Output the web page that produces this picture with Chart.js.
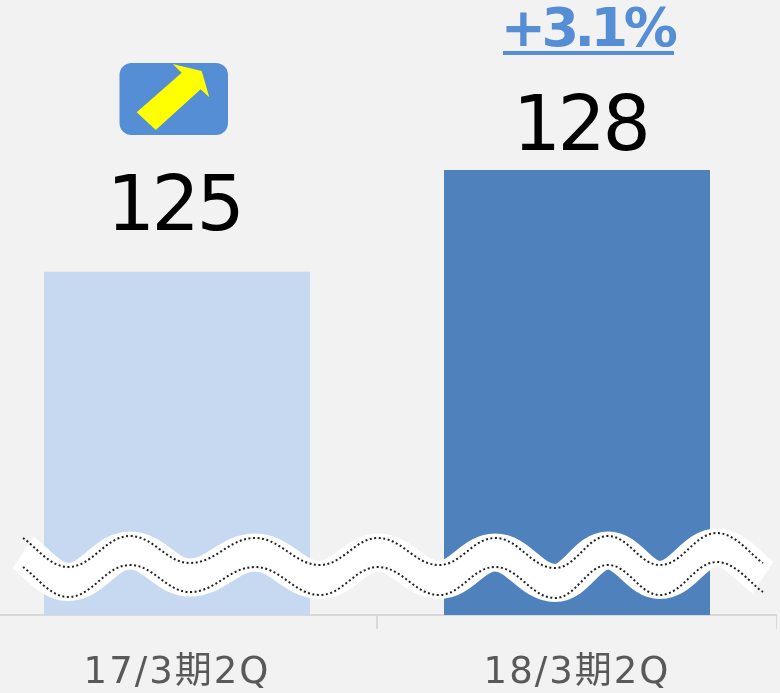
<!DOCTYPE html>
<html>
<head>
<meta charset="utf-8">
<style>
  html, body { margin: 0; padding: 0; background: #f2f2f2; overflow: hidden; width: 780px; height: 693px; }
  #chart { position: absolute; left: -23px; top: 0; }
</style>
<script src="https://cdn.jsdelivr.net/npm/chart.js@4"></script>
</head>
<body>
<canvas id="chart" width="800" height="693"></canvas>
<script>
const categories = ['17/3期2Q', '18/3期2Q'];
const values = [125, 128];
const barColors = ['#c6d9f1', '#4f81bd'];
const yMin = 114.9;
const yMax = 133;
const growthLabel = '+3.1%';

const labelFont = '"DejaVu Sans", "Noto Sans CJK JP", sans-serif';
const canvasLeft = -23;

// wave break, page pixels: crests and troughs of the two dotted lines
const waveX = [23, 68, 130, 190, 255, 320, 378, 439, 495, 555, 608, 660, 717, 763];
const waveTop = [538, 567, 536, 563, 538, 565, 538, 565, 538, 568, 536, 565, 533, 563];
const waveBottom = [567, 597, 565, 592, 567, 595, 567, 595, 567, 598, 565, 595, 562, 592];

function tracePath(ctx, xs, ys) {
  ctx.beginPath();
  ctx.moveTo(xs[0], ys[0]);
  for (var i = 1; i < xs.length; i++) {
    var dx = (xs[i] - xs[i - 1]) * 0.4;
    var first = i === 1;
    var last = i === xs.length - 1;
    // flat tangent at every crest, straighter run into the two ends
    ctx.bezierCurveTo(
      first ? xs[0] + 12 : xs[i - 1] + dx, first ? ys[0] + 8 : ys[i - 1],
      last ? xs[i] - 12 : xs[i] - dx, last ? ys[i] - 8 : ys[i],
      xs[i], ys[i]
    );
  }
}

const decorations = {
  id: 'decorations',
  beforeDraw(chart) {
    // tick labels are spaced a little wider than the font
    chart.ctx.letterSpacing = '2px';
  },
  afterDatasetsDraw(chart) {
    const ctx = chart.ctx;
    const bars = chart.getDatasetMeta(0).data;

    ctx.save();
    ctx.textAlign = 'center';
    ctx.textBaseline = 'alphabetic';
    ctx.fillStyle = '#000000';
    ctx.font = '400 76px ' + labelFont;
    ctx.letterSpacing = '-3.5px';
    const gaps = [42, 20];
    const shifts = [-3, 3];
    bars.forEach(function (bar, i) {
      ctx.fillText(String(values[i]), bar.x + shifts[i], bar.y - gaps[i]);
    });

    // growth figure above the second bar
    ctx.fillStyle = '#558ed5';
    ctx.font = '700 54px ' + labelFont;
    ctx.letterSpacing = '-4.5px';
    ctx.fillText(growthLabel, bars[1].x + 10, 46);
    ctx.letterSpacing = '0px';
    ctx.fillRect(526, 51, 171, 4);

    ctx.translate(-canvasLeft, 0);

    // badge with arrow
    ctx.fillStyle = '#558ed5';
    ctx.beginPath();
    ctx.roundRect(119.5, 63, 108.5, 72, 12);
    ctx.fill();
    ctx.fillStyle = '#ffff00';
    ctx.beginPath();
    ctx.moveTo(136.7, 112.3);
    ctx.lineTo(181.7, 72.7);
    ctx.lineTo(172.7, 64);
    ctx.lineTo(201.7, 71);
    ctx.lineTo(209.3, 97.3);
    ctx.lineTo(200.7, 89.3);
    ctx.lineTo(155.7, 130);
    ctx.closePath();
    ctx.fill();

    // white band of the axis break, then its dotted edges
    const waveMid = waveTop.map(function (y, i) { return (y + waveBottom[i]) / 2; });
    tracePath(ctx, waveX, waveMid);
    ctx.strokeStyle = '#ffffff';
    ctx.lineWidth = 38;
    ctx.lineCap = 'butt';
    ctx.lineJoin = 'miter';
    ctx.stroke();

    ctx.strokeStyle = '#222222';
    ctx.lineWidth = 2;
    ctx.setLineDash([2, 2.5]);
    tracePath(ctx, waveX, waveTop);
    ctx.stroke();
    tracePath(ctx, waveX, waveBottom);
    ctx.stroke();
    ctx.restore();
  }
};

new Chart(document.getElementById('chart'), {
  type: 'bar',
  data: {
    labels: categories,
    datasets: [{
      data: values,
      backgroundColor: barColors,
      barPercentage: 0.665,
      categoryPercentage: 1
    }]
  },
  options: {
    responsive: false,
    animation: false,
    layout: { padding: 0 },
    plugins: { legend: { display: false }, tooltip: { enabled: false } },
    scales: {
      x: {
        afterFit: function (scale) { scale.height = 78; },
        border: { color: '#d9d9d9', width: 2 },
        grid: { color: '#d9d9d9', lineWidth: 2, drawOnChartArea: false, tickLength: 14 },
        ticks: {
          color: '#595959',
          padding: 22,
          maxRotation: 0,
          font: { family: labelFont, size: 37 }
        }
      },
      y: { display: false, min: yMin, max: yMax }
    }
  },
  plugins: [decorations]
});
</script>
</body>
</html>
